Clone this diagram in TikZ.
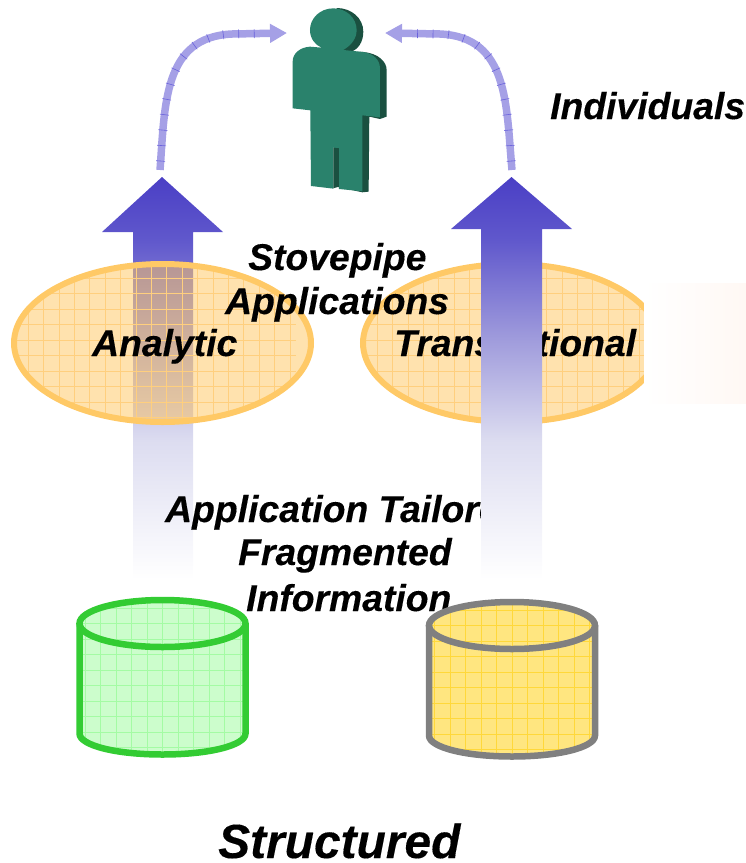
\documentclass[tikz,border=0pt]{standalone}
\usepackage{fontspec}
\setmainfont{Liberation Sans}[BoldItalicFeatures={FakeBold=0.25}]
\usetikzlibrary{arrows.meta,decorations.markings}
\definecolor{ellfill}{HTML}{FFC55D}
\definecolor{ellline}{HTML}{FFC966}
\definecolor{ellgrid}{HTML}{FFCF7E}
\definecolor{arrowtop}{HTML}{4A3FC5}
\definecolor{arrowa}{HTML}{6058CC}
\definecolor{arrowb}{HTML}{A09CDC}
\definecolor{arrowc}{HTML}{DCDCF0}
\definecolor{arrowd}{HTML}{EEEEF8}
\definecolor{band}{HTML}{A5A0E6}
\definecolor{bandtick}{HTML}{6A62DC}
\definecolor{greenfill}{HTML}{CCFDCC}
\definecolor{greengrid}{HTML}{A4FBA4}
\definecolor{greenline}{HTML}{33CC33}
\definecolor{yelfill}{HTML}{FFE680}
\definecolor{yelgrid}{HTML}{FFD83A}
\definecolor{grayline}{HTML}{808080}
\definecolor{personmain}{HTML}{2A826C}
\definecolor{personshade}{HTML}{1A5040}
\definecolor{palerect}{HTML}{FFF8F4}
\pgfdeclareverticalshading{arrowgrad}{100bp}{color(0bp)=(white); color(25bp)=(white); color(33.68bp)=(arrowd); color(42.37bp)=(arrowc); color(54.78bp)=(arrowb); color(67.18bp)=(arrowa); color(75bp)=(arrowtop); color(100bp)=(arrowtop)}
\tikzset{
  label37/.style={inner sep=0pt,anchor=base west,font=\fontsize{37.3}{44}\selectfont\bfseries\itshape},
  label48/.style={inner sep=0pt,anchor=base west,font=\fontsize{47.9}{56}\selectfont\bfseries\itshape},
  bandline/.style={line width=7.5pt,band,-{Triangle[length=17pt,width=18pt]},
    postaction={decorate,decoration={markings,mark=between positions 9pt and 0.86 step 15.5pt with {\draw[-,bandtick,line width=.6pt] (0,-4.5pt)--(0,4.5pt);}}}},
  bigarrow/.style={shading=arrowgrad,draw=none},
}
\newcommand{\ellipsegrid}[2]{%
  \foreach \k in {-10,...,10} {\draw[ellgrid,line width=.7pt] (#1+\k*15.4,255)--(#1+\k*15.4,430);}
  \foreach \k in {-6,...,6} {\draw[ellgrid,line width=.7pt] (#1-160,#2+\k*15.5)--(#1+160,#2+\k*15.5);}
}
\newcommand{\mycyl}[5]{%
  \begin{scope}[shift={(#1,#2)}]
    \fill[#3] (-83,0) .. controls (-83,-13) and (-46,-23.5) .. (0,-23.5) .. controls (46,-23.5) and (83,-13) .. (83,0) -- (83,110) .. controls (83,122) and (46,131) .. (0,131) .. controls (-46,131) and (-83,122) .. (-83,110) -- cycle;
    \begin{scope}
      \clip (-83,0) .. controls (-83,-13) and (-46,-23.5) .. (0,-23.5) .. controls (46,-23.5) and (83,-13) .. (83,0) -- (83,110) .. controls (83,122) and (46,131) .. (0,131) .. controls (-46,131) and (-83,122) .. (-83,110) -- cycle;
      \foreach \k in {-5,...,5} {\draw[#4,line width=.6pt] (\k*15.5,-30)--(\k*15.5,135);}
      \foreach \k in {-1,...,9} {\draw[#4,line width=.6pt] (-85,\k*15.5)--(85,\k*15.5);}
    \end{scope}
    \draw[#5,line width=6.5pt] (-83,0) -- (-83,110) .. controls (-83,122) and (-46,131) .. (0,131) .. controls (46,131) and (83,122) .. (83,110) -- (83,0);
    \draw[#5,line width=6.5pt] (0,0) ellipse [x radius=83pt,y radius=23.5pt];
  \end{scope}%
}
\begin{document}
\begin{tikzpicture}[x=1pt,y=-1pt]
\useasboundingbox (0,0) rectangle (746,863);
% person
\begin{scope}[shift={(130,0)},x=0.3333pt,y=-0.3333pt]
  \fill[personshade] (620,24) .. controls (665,24) and (700,55) .. (700,95) .. controls (700,125) and (685,150) .. (660,156) -- (700,156) .. controls (745,160) and (770,185) .. (770,210) -- (770,350) -- (750,357) -- (718,350) -- (716,575) -- (697,577) -- (620,560) -- (620,100) -- cycle;
  \fill[personmain] (610,25) .. controls (570,25) and (540,55) .. (540,90) .. controls (540,115) and (555,135) .. (575,143) -- (540,140) .. controls (510,142) and (488,160) .. (488,185) -- (488,325) -- (541,331) -- (543,558) -- (610,566) -- (610,443) -- (627,445) -- (627,567) -- (697,574) -- (697,346) -- (750,352) -- (750,205) .. controls (750,180) and (730,160) .. (700,156) -- (640,150) .. controls (665,135) and (680,115) .. (680,90) .. controls (680,55) and (650,25) .. (610,25) -- cycle;
  \fill[personshade] (610,443) -- (627,445) -- (627,560) -- (610,565) -- cycle;
\end{scope}
\node[inner sep=0pt,minimum width=90pt,minimum height=180pt] (person) at (336,98) {};
% curved connectors
\coordinate (ls) at (160,170);
\coordinate (lt) at (287,33);
\coordinate (rs) at (512,170);
\coordinate (rt) at (385,33);
\draw[bandline] (ls) .. controls (165,105) and (163,37) .. (232,34) -- (lt);
\draw[bandline] (rs) .. controls (506,105) and (509,37) .. (440,34) -- (rt);
% left block arrow
\shade[bigarrow] (162,177) -- (223,232) -- (193,232) -- (193,580) -- (133,580) -- (133,232) -- (102,232) -- cycle;
% left ellipse
\fill[ellfill,fill opacity=.5] (162.5,343) ellipse [x radius=148.5pt,y radius=79pt];
\begin{scope}
  \clip (162.5,343) ellipse [x radius=148.5pt,y radius=79pt];
  \ellipsegrid{136}{340}
\end{scope}
\draw[ellline,line width=6pt] (162.5,343) ellipse [x radius=148.5pt,y radius=79pt];
% right ellipse, cut off
\begin{scope}
  \clip (340,250) rectangle (644,440);
  \fill[ellfill,fill opacity=.5] (511.5,343) ellipse [x radius=148.5pt,y radius=79pt];
  \begin{scope}
    \clip (511.5,343) ellipse [x radius=148.5pt,y radius=79pt];
    \ellipsegrid{485}{340}
  \end{scope}
  \draw[ellline,line width=6pt] (511.5,343) ellipse [x radius=148.5pt,y radius=79pt];
\end{scope}
\shade[left color=white,right color=palerect] (644,283) rectangle (746,403);
% labels
\node[label37] (individuals) at (550,119) {Individuals};
\node[label37] (stovepipe) at (248,270) {Stovepipe};
\node[label37] (applications) at (225,314) {Applications};
\node[label37] (analytic) at (92,356) {Analytic};
\node[label37] (transactional) at (394,356) {Transactional};
\node[label37] (tailored) at (165,522) {Application Tailored};
\node[label37] (fragmented) at (238,565) {Fragmented};
\node[label37] (information) at (246,611) {Information};
\node[label48] (structured) at (218,858) {Structured};
% right block arrow
\shade[bigarrow] (511.5,177) -- (572,229) -- (542,229) -- (542,580) -- (481,580) -- (481,229) -- (451,229) -- cycle;
% cylinders
\mycyl{162.5}{623.5}{greenfill}{greengrid}{greenline}
\mycyl{512}{625.5}{yelfill}{yelgrid}{grayline}
\end{tikzpicture}
\end{document}
